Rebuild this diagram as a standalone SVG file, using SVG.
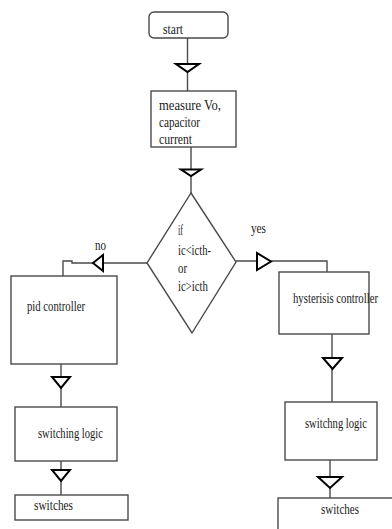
<svg xmlns="http://www.w3.org/2000/svg" width="392" height="529" viewBox="0 0 392 529" font-family="'Liberation Serif', 'Times New Roman', serif">
<style>
.box{fill:#fff;stroke:#4a4a4a;stroke-width:1.4}
.ln{fill:none;stroke:#4a4a4a;stroke-width:1.4}
.ar{fill:#fff;stroke:#000;stroke-width:2;stroke-linejoin:miter}
text{font-family:'Liberation Serif','Times New Roman',serif;font-size:14.5px;fill:#1a1a1a}
</style>
<rect width="392" height="529" fill="#fff"/>
<g id="connectors">
<line class="ln" x1="187.5" y1="38" x2="187.5" y2="91"/>
<polygon class="ar" points="176,64 199,64 187.5,72"/>
<line class="ln" x1="191" y1="147" x2="191" y2="193"/>
<polygon class="ar" points="181,169.5 201,169.5 191,176"/>
<path class="ln" d="M147,263 H72 V261 H63 V276"/>
<polygon class="ar" points="103,255 103,271 93,263"/>
<path class="ln" d="M236,261 H327 V275"/>
<polygon class="ar" points="257,253 257,270 271,261.5"/>
<line class="ln" x1="61" y1="364" x2="61" y2="407"/>
<polygon class="ar" points="52,377 70,377 61,388"/>
<line class="ln" x1="61" y1="461" x2="61" y2="495"/>
<polygon class="ar" points="52,470 70,470 61,481"/>
<line class="ln" x1="332" y1="334" x2="332" y2="402"/>
<polygon class="ar" points="323,358 342,358 332.5,369"/>
<line class="ln" x1="330" y1="460" x2="330" y2="498"/>
<polygon class="ar" points="318,477 342,477 330,488"/>
<text x="95" y="250" textLength="11" lengthAdjust="spacingAndGlyphs">no</text>
<text x="251" y="233" textLength="15" lengthAdjust="spacingAndGlyphs">yes</text>
</g>
<g id="start">
<rect class="box" x="149" y="12" width="79" height="26" rx="5"/>
<text x="163" y="34" textLength="20" lengthAdjust="spacingAndGlyphs">start</text>
</g>
<g id="measure">
<rect class="box" x="151" y="91" width="85" height="56"/>
<text x="159" y="110" textLength="62" lengthAdjust="spacingAndGlyphs">measure Vo,</text>
<text x="159" y="127" textLength="41" lengthAdjust="spacingAndGlyphs">capacitor</text>
<text x="159" y="144" textLength="33" lengthAdjust="spacingAndGlyphs">current</text>
</g>
<g id="decision">
<polygon class="box" points="191,193 236,262 192,333 147,263"/>
<text x="178" y="235" textLength="5" lengthAdjust="spacingAndGlyphs">if</text>
<text x="178" y="255" textLength="33" lengthAdjust="spacingAndGlyphs">ic&lt;icth-</text>
<text x="178" y="273" textLength="9" lengthAdjust="spacingAndGlyphs">or</text>
<text x="178" y="291" textLength="30" lengthAdjust="spacingAndGlyphs">ic&gt;icth</text>
</g>
<g id="pid">
<rect class="box" x="11" y="276" width="106" height="88"/>
<text x="27" y="311" textLength="58" lengthAdjust="spacingAndGlyphs">pid controller</text>
</g>
<g id="switching-left">
<rect class="box" x="15" y="407" width="102" height="54"/>
<text x="38" y="438" textLength="65" lengthAdjust="spacingAndGlyphs">switching logic</text>
</g>
<g id="switches-left">
<rect class="box" x="15" y="495" width="113" height="25"/>
<text x="34" y="510" textLength="39" lengthAdjust="spacingAndGlyphs">switches</text>
</g>
<g id="hysteresis">
<rect class="box" x="279" y="272" width="90" height="62"/>
<text x="293" y="303" textLength="85" lengthAdjust="spacingAndGlyphs">hysterisis controller</text>
</g>
<g id="switching-right">
<rect class="box" x="285" y="402" width="92" height="58"/>
<text x="305" y="428" textLength="62" lengthAdjust="spacingAndGlyphs">switchng logic</text>
</g>
<g id="switches-right">
<rect class="box" x="278" y="498" width="130" height="50"/>
<text x="321" y="514" textLength="38" lengthAdjust="spacingAndGlyphs">switches</text>
</g>
</svg>
